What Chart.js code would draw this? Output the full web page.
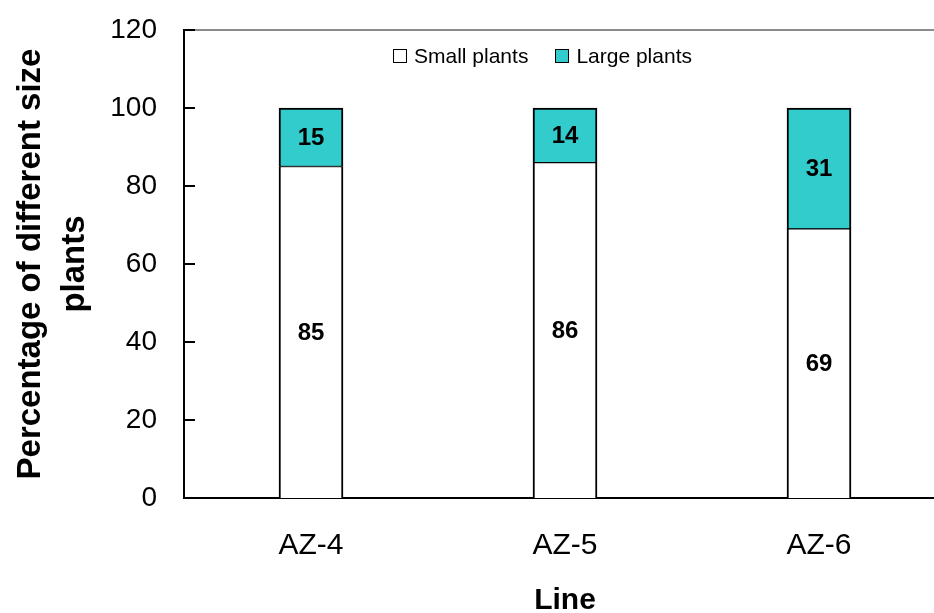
<!DOCTYPE html>
<html>
<head>
<meta charset="utf-8">
<script src="https://cdn.jsdelivr.net/npm/chart.js@4"></script>
<style>
  html, body { margin: 0; padding: 0; background: #fff; overflow: hidden; }
  #wrap { position: relative; width: 950px; height: 613px; }
  #legend { position: absolute; left: 393px; top: 44px; font: 21px "Liberation Sans", Arial, sans-serif; color: #000; white-space: nowrap; }
  #legend span.item { display: inline-flex; align-items: center; margin-right: 27px; }
  #legend span.box { display: inline-block; width: 12px; height: 12px; border: 1.5px solid #000; margin-right: 7px; }
</style>
</head>
<body>
<div id="wrap">
  <canvas id="chart" width="950" height="613"></canvas>
  <div id="legend"></div>
</div>
<script>
const lines = ["AZ-4", "AZ-5", "AZ-6"];
const smallPlants = [85, 86, 69];
const largePlants = [15, 14, 31];
const yTicks = [0, 20, 40, 60, 80, 100, 120];

const FONT = '"Liberation Sans", Arial, sans-serif';

// labels in the middle of each stacked segment
const segmentLabels = {
  id: 'segmentLabels',
  afterDatasetsDraw(chart) {
    const ctx = chart.ctx;
    ctx.save();
    ctx.font = 'bold 24px ' + FONT;
    ctx.fillStyle = '#000';
    ctx.textAlign = 'center';
    ctx.textBaseline = 'middle';
    chart.data.datasets.forEach((ds, i) => {
      chart.getDatasetMeta(i).data.forEach((bar, j) => {
        ctx.fillText(ds.data[j], bar.x, (bar.y + bar.base) / 2 + 1);
      });
    });
    ctx.restore();
  }
};

// gray top border and inward tick marks on the value axis
const frame = {
  id: 'frame',
  afterDraw(chart) {
    const ctx = chart.ctx;
    const area = chart.chartArea;
    const y = chart.scales.y;
    ctx.save();
    ctx.strokeStyle = '#8c8c8c';
    ctx.lineWidth = 2;
    ctx.beginPath();
    ctx.moveTo(area.left, y.getPixelForValue(120));
    ctx.lineTo(area.right, y.getPixelForValue(120));
    ctx.stroke();
    ctx.strokeStyle = '#000';
    ctx.beginPath();
    yTicks.forEach(v => {
      const py = y.getPixelForValue(v);
      ctx.moveTo(area.left, py);
      ctx.lineTo(area.left + 11, py);
    });
    ctx.stroke();
    ctx.restore();
  }
};

const chart = new Chart(document.getElementById('chart'), {
  type: 'bar',
  data: {
    labels: lines,
    datasets: [
      {
        label: 'Small plants',
        data: smallPlants,
        backgroundColor: '#ffffff',
        borderColor: '#000',
        borderWidth: { top: 1, left: 2, right: 2, bottom: 0 },
        borderSkipped: false,
        barThickness: 64
      },
      {
        label: 'Large plants',
        data: largePlants,
        backgroundColor: '#33cccc',
        borderColor: '#000',
        borderWidth: { top: 2, left: 2, right: 2, bottom: 1 },
        borderSkipped: false,
        barThickness: 64
      }
    ]
  },
  options: {
    responsive: false,
    animation: false,
    layout: { padding: { top: 30, right: 4, left: 0, bottom: 0 } },
    plugins: {
      legend: { display: false },
      tooltip: { enabled: false }
    },
    scales: {
      x: {
        stacked: true,
        grid: { display: false, drawTicks: false },
        border: { display: true, color: '#000', width: 2 },
        ticks: { color: '#000', font: { family: FONT, size: 30 }, padding: 30 },
        title: {
          display: true,
          text: 'Line',
          color: '#000',
          font: { family: FONT, size: 30, weight: 'bold', lineHeight: 0.8 },
          padding: { top: 0, bottom: 0 }
        },
        afterFit(scale) { scale.height = 115; }
      },
      y: {
        stacked: true,
        min: 0,
        max: 120,
        grid: { display: false, drawTicks: false },
        border: { display: true, color: '#000', width: 2 },
        ticks: {
          stepSize: 20,
          color: '#000',
          padding: 27,
          font: { family: FONT, size: 28 }
        },
        title: {
          display: true,
          text: ['Percentage of different size', 'plants'],
          color: '#000',
          font: { family: FONT, size: 33, weight: 'bold', lineHeight: 1.36 },
          padding: { top: 8, bottom: 0 }
        },
        afterFit(scale) {
          scale.width = 184;
          scale.paddingTop = 0;
          scale.paddingBottom = 0;
        }
      }
    }
  },
  plugins: [segmentLabels, frame]
});

// legend row inside the plot
const legend = document.getElementById('legend');
chart.data.datasets.forEach(ds => {
  const item = document.createElement('span');
  item.className = 'item';
  item.innerHTML = `<span class="box" style="background:${ds.backgroundColor}"></span>${ds.label}`;
  legend.appendChild(item);
});
</script>
</body>
</html>
